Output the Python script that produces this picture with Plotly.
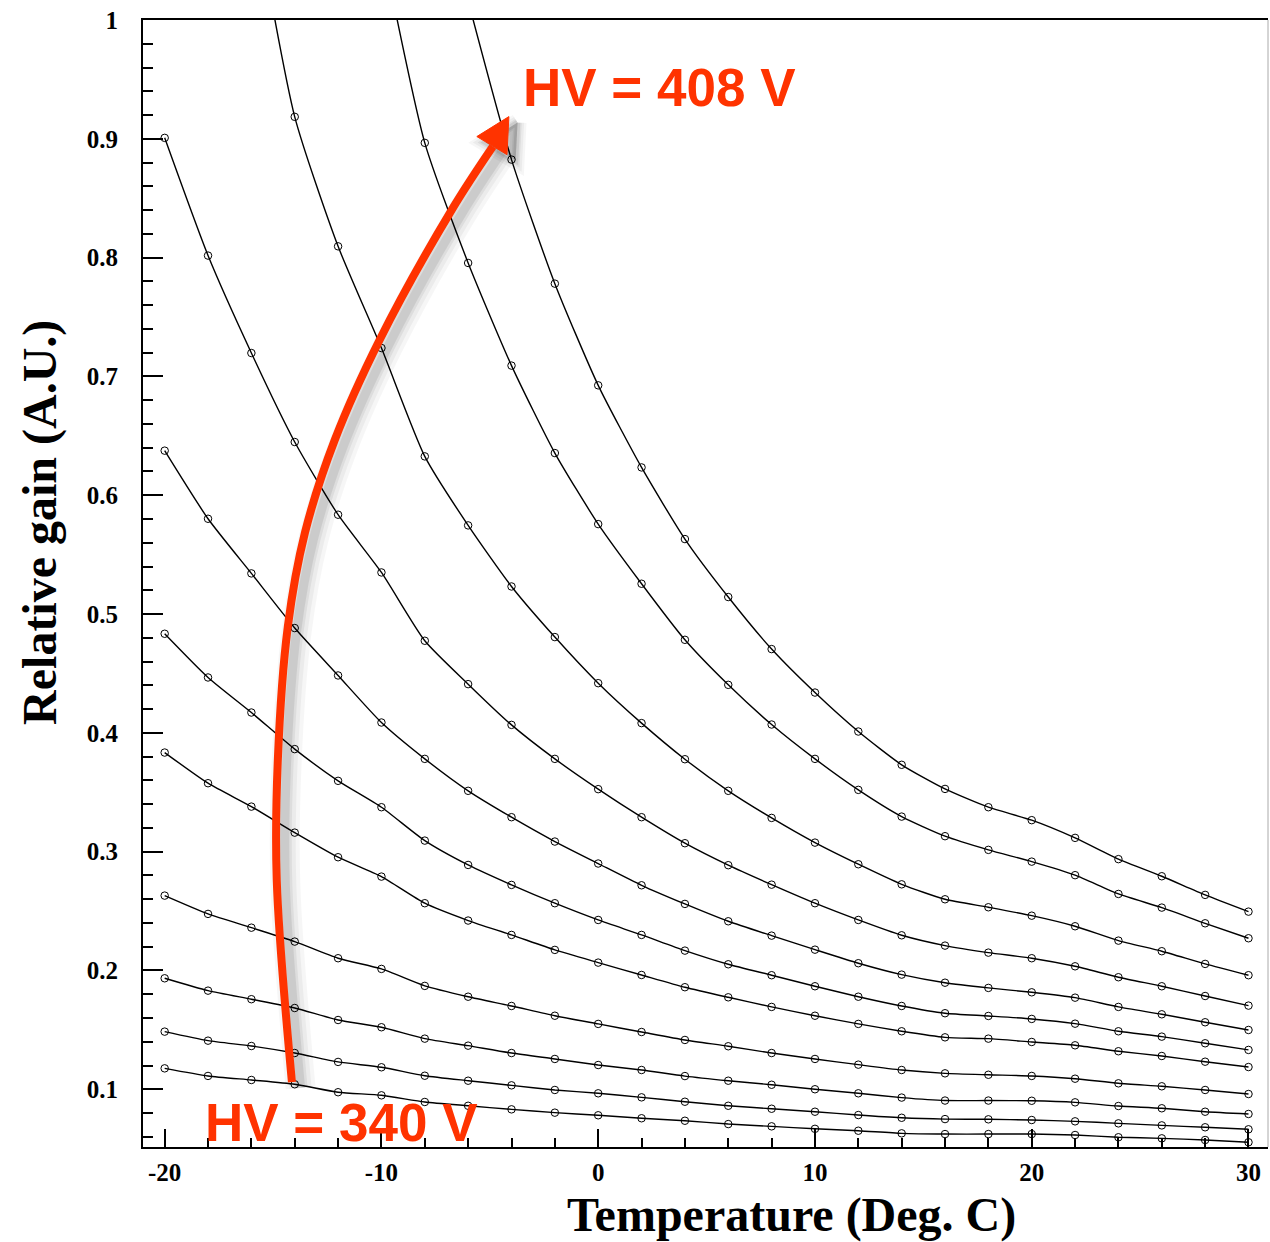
import plotly.graph_objects as go

# ---------------- data ----------------
temperature = [-20, -18, -16, -14, -12, -10, -8, -6, -4, -2, 0, 2, 4, 6, 8,
               10, 12, 14, 16, 18, 20, 22, 24, 26, 28, 30]

# relative gain curves, lowest HV (340 V) first, highest HV (408 V) last
gain_1 = [0.1176, 0.1112, 0.1078, 0.1042, 0.0975, 0.0949, 0.0893, 0.0861, 0.0831, 0.0803,
          0.0781, 0.0756, 0.0735, 0.0707, 0.0688, 0.0667, 0.0651, 0.0629, 0.0623, 0.0623,
          0.0623, 0.0615, 0.0596, 0.0587, 0.0573, 0.0554]
gain_2 = [0.1485, 0.1409, 0.1364, 0.1305, 0.1230, 0.1185, 0.1114, 0.1072, 0.1033, 0.0994,
          0.0966, 0.0932, 0.0895, 0.0861, 0.0836, 0.0811, 0.0783, 0.0760, 0.0749, 0.0747,
          0.0741, 0.0730, 0.0713, 0.0696, 0.0680, 0.0663]
gain_3 = [0.1934, 0.1830, 0.1758, 0.1684, 0.1583, 0.1522, 0.1426, 0.1367, 0.1305, 0.1255,
          0.1204, 0.1162, 0.1111, 0.1072, 0.1038, 0.1000, 0.0966, 0.0930, 0.0905, 0.0905,
          0.0903, 0.0890, 0.0859, 0.0840, 0.0811, 0.0792]
gain_4 = [0.2630, 0.2476, 0.2360, 0.2243, 0.2103, 0.2013, 0.1870, 0.1779, 0.1701, 0.1619,
          0.1550, 0.1482, 0.1415, 0.1362, 0.1305, 0.1255, 0.1207, 0.1162, 0.1134, 0.1122,
          0.1112, 0.1089, 0.1050, 0.1025, 0.0994, 0.0960]
gain_5 = [0.3834, 0.3576, 0.3379, 0.3160, 0.2953, 0.2790, 0.2566, 0.2420, 0.2299, 0.2173,
          0.2066, 0.1962, 0.1859, 0.1774, 0.1693, 0.1619, 0.1550, 0.1488, 0.1437, 0.1426,
          0.1398, 0.1370, 0.1320, 0.1280, 0.1232, 0.1187]
gain_6 = [0.4834, 0.4466, 0.4171, 0.3863, 0.3596, 0.3374, 0.3093, 0.2888, 0.2720, 0.2566,
          0.2425, 0.2299, 0.2167, 0.2052, 0.1960, 0.1867, 0.1779, 0.1701, 0.1640, 0.1617,
          0.1592, 0.1552, 0.1488, 0.1443, 0.1387, 0.1331]
gain_7 = [0.6375, 0.5802, 0.5342, 0.4882, 0.4483, 0.4087, 0.3781, 0.3512, 0.3290, 0.3085,
          0.2900, 0.2717, 0.2560, 0.2414, 0.2293, 0.2175, 0.2061, 0.1965, 0.1897, 0.1853,
          0.1816, 0.1771, 0.1693, 0.1631, 0.1564, 0.1499]
gain_8 = [0.9008, 0.8017, 0.7197, 0.6448, 0.5836, 0.5350, 0.4775, 0.4410, 0.4067, 0.3781,
          0.3526, 0.3290, 0.3071, 0.2886, 0.2722, 0.2566, 0.2425, 0.2296, 0.2209, 0.2150,
          0.2103, 0.2035, 0.1943, 0.1867, 0.1785, 0.1704]
gain_9 = [None, None, 1.110, 0.9185, 0.8095, 0.7239, 0.6327, 0.5746, 0.5232, 0.4806,
          0.4418, 0.4082, 0.3778, 0.3512, 0.3284, 0.3076, 0.2894, 0.2725, 0.2599, 0.2532,
          0.2461, 0.2372, 0.2251, 0.2162, 0.2055, 0.1960]
gain_10 = [None, None, None, None, None, 1.065, 0.8966, 0.7955, 0.7091, 0.6355,
           0.5757, 0.5255, 0.4783, 0.4404, 0.4070, 0.3781, 0.3520, 0.3295, 0.3130, 0.3015,
           0.2916, 0.2802, 0.2644, 0.2529, 0.2397, 0.2271]
gain_11 = [None, None, None, None, None, None, None, 1.016, 0.8825, 0.7781,
           0.6925, 0.6234, 0.5631, 0.5143, 0.4705, 0.4339, 0.4011, 0.3731, 0.3528, 0.3374,
           0.3265, 0.3116, 0.2937, 0.2793, 0.2636, 0.2495]

curves = [gain_1, gain_2, gain_3, gain_4, gain_5, gain_6,
          gain_7, gain_8, gain_9, gain_10, gain_11]

x_tick_vals = [-20, -10, 0, 10, 20, 30]
x_tick_text = ["-20", "-10", "0", "10", "20", "30"]
y_tick_vals = [0.1, 0.2, 0.3, 0.4, 0.5, 0.6, 0.7, 0.8, 0.9, 1.0]
y_tick_text = ["0.1", "0.2", "0.3", "0.4", "0.5", "0.6", "0.7", "0.8", "0.9", "1"]

label_low = "HV = 340 V"
label_high = "HV = 408 V"

# guide points of the hand-drawn red arrow (annotation, in data units)
arrow_x = [-14.13, -14.83, -14.78, -14.32, -13.53, -12.15, -10.08, -6.75, -4.86]
arrow_y = [0.1061, 0.2762, 0.3773, 0.4893, 0.5684, 0.6467, 0.7309, 0.8404, 0.8935]
arrow_head_x = [-4.12, -5.60, -4.21, -4.12]
arrow_head_y = [0.9187, 0.9019, 0.8867, 0.9187]

RED = "#ff3300"
SERIF = "Liberation Serif"

fig = go.Figure()

for ys in curves:
    fig.add_trace(go.Scatter(
        x=temperature, y=ys, mode="lines+markers",
        line=dict(color="black", width=1.4, shape="spline", smoothing=0.6),
        marker=dict(symbol="circle-open", size=7.5, color="black", line=dict(width=1)),
        showlegend=False, hoverinfo="skip"))

# arrow shadow (soft grey, offset right/down)
for w, a in [(30, 0.035), (22, 0.045), (14, 0.06), (9, 0.08)]:
    fig.add_trace(go.Scatter(
        x=[v + 0.4 for v in arrow_x], y=[v - 0.005 for v in arrow_y], mode="lines",
        line=dict(color=f"rgba(0,0,0,{a})", width=w, shape="spline", smoothing=1.0),
        showlegend=False, hoverinfo="skip"))
    fig.add_trace(go.Scatter(
        x=[v + 0.4 for v in arrow_head_x], y=[v - 0.005 for v in arrow_head_y],
        mode="lines", fill="toself", fillcolor=f"rgba(0,0,0,{a})",
        line=dict(color=f"rgba(0,0,0,{a})", width=w * 0.6),
        showlegend=False, hoverinfo="skip"))

# arrow shaft and head
fig.add_trace(go.Scatter(
    x=arrow_x, y=arrow_y, mode="lines",
    line=dict(color=RED, width=8, shape="spline", smoothing=1.0),
    showlegend=False, hoverinfo="skip"))
fig.add_trace(go.Scatter(
    x=arrow_head_x, y=arrow_head_y, mode="lines", fill="toself", fillcolor=RED,
    line=dict(color=RED, width=1), showlegend=False, hoverinfo="skip"))

HV_FONT = dict(family="Liberation Sans", size=53, color=RED, weight="bold")
fig.add_annotation(x=-3.55, y=0.943, xref="x", yref="y", text=label_high,
                   showarrow=False, xanchor="left", yanchor="middle", font=HV_FONT)
fig.add_annotation(x=-18.22, y=0.0724, xref="x", yref="y", text=label_low,
                   showarrow=False, xanchor="left", yanchor="middle", font=HV_FONT)

# axis titles
fig.add_annotation(x=8.94, y=-0.0603, xref="x", yref="paper", text="Temperature (Deg. C)",
                   showarrow=False, xanchor="center", yanchor="middle",
                   font=dict(family=SERIF, size=48, color="black", weight="bold"))
fig.add_annotation(x=-0.0916, y=0.5546, xref="paper", yref="paper",
                   text="Relative gain (A.U.)", textangle=-90,
                   showarrow=False, xanchor="center", yanchor="middle",
                   font=dict(family=SERIF, size=48, color="black", weight="bold"))

# faint right border
fig.add_shape(type="line", xref="paper", yref="paper", x0=1, x1=1, y0=0, y1=1,
              line=dict(color="#aaaaaa", width=1))

fig.update_xaxes(
    range=[-21.0, 30.9], showgrid=False, zeroline=False,
    showline=True, linecolor="black", linewidth=2, mirror=True,
    ticks="inside", ticklen=18, tickwidth=2, tickcolor="black",
    tickvals=x_tick_vals, ticktext=x_tick_text, ticklabelstandoff=2,
    tickfont=dict(family=SERIF, size=25, color="black", weight="bold"),
    minor=dict(ticks="inside", ticklen=9, tickwidth=2, tickcolor="black", dtick=2, showgrid=False))
fig.update_yaxes(
    range=[0.0514, 1.0], showgrid=False, zeroline=False,
    showline=True, linecolor="black", linewidth=2,
    ticks="inside", ticklen=20, tickwidth=2, tickcolor="black",
    tickvals=y_tick_vals, ticktext=y_tick_text, ticklabelstandoff=18,
    tickfont=dict(family=SERIF, size=25, color="black", weight="bold"),
    minor=dict(ticks="inside", ticklen=10, tickwidth=2, tickcolor="black", dtick=0.02,
               tick0=0, showgrid=False))

fig.update_layout(
    width=1270, height=1242,
    margin=dict(l=143, r=2, t=20, b=95),
    paper_bgcolor="white", plot_bgcolor="white",
    showlegend=False)

fig.write_html("out.html")
